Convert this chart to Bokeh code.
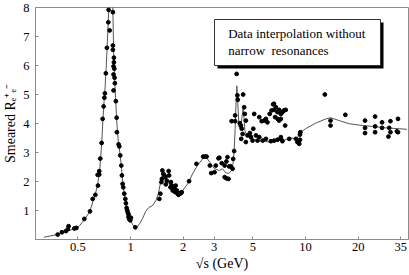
import numpy as np
from bokeh.plotting import figure
from bokeh.models import FixedTicker, Label, BoxAnnotation
from bokeh.embed import file_html
from bokeh.resources import INLINE

# ---- data ----
data_E = [0.383, 0.405, 0.427, 0.438, 0.442, 0.477, 0.490, 0.544, 0.586, 0.607, 0.629, 0.648,
          0.651, 0.662, 0.662, 0.671, 0.683, 0.692, 0.701, 0.708, 0.713, 0.722, 0.732, 0.746,
          0.749, 0.759,
          0.792, 0.792, 0.792, 0.803, 0.803, 0.799, 0.807, 0.799, 0.810, 0.813, 0.799, 0.824,
          0.832, 0.835, 0.854, 0.862, 0.873, 0.885, 0.892, 0.900, 0.908, 0.920, 0.933, 0.940,
          0.949, 0.957, 0.965, 0.974, 0.974, 0.983, 1.004, 0.996, 1.064,
          1.46, 1.48, 1.50, 1.51, 1.52, 1.54, 1.56, 1.58, 1.59, 1.61, 1.65, 1.66, 1.69, 1.70,
          1.72, 1.74, 1.78, 1.80, 1.81, 1.84, 1.86, 1.88, 1.91, 1.94, 1.96, 2.16, 2.38, 2.60,
          2.67, 2.72, 2.84, 2.89, 3.02, 3.07, 3.18, 3.22, 3.32, 3.45, 3.53, 3.58, 3.66, 3.74,
          3.45, 3.53, 3.63, 3.83, 3.86, 3.91,
          3.78, 3.96, 3.96, 4.04, 4.08, 4.10, 4.40, 4.21, 4.27, 4.32, 4.46, 4.50, 4.56, 4.37,
          4.29, 4.56, 4.66, 4.81, 4.88, 4.98, 5.03, 5.21, 5.32, 5.44, 5.69, 5.94, 6.34, 6.62,
          6.92, 7.23,
          5.09, 5.44, 5.62, 5.80, 5.94, 6.06, 6.24, 6.40, 6.53, 6.62, 6.70, 6.92, 7.07, 7.23,
          6.92, 7.23, 6.77, 7.38, 7.54, 7.71, 7.07, 7.65, 6.60,
          7.38, 8.07, 8.81, 8.99, 9.30, 9.30, 9.35, 9.21, 7.23,
          12.9, 13.9, 13.9, 16.9,
          21.9, 21.9, 21.9, 25.0, 25.0, 25.0, 27.4, 27.4, 30.1, 29.8, 30.6, 30.6, 33.3, 33.8, 33.8]
data_R = [0.17, 0.25, 0.29, 0.36, 0.46, 0.38, 0.40, 0.71, 0.97, 1.40, 1.54, 2.23,
          1.86, 2.24, 2.36, 2.79, 3.33, 4.16, 4.59, 4.89, 5.04, 5.73, 6.61, 7.49,
          7.92, 7.21,
          7.84, 6.69, 6.54, 6.27, 6.11, 5.97, 5.89, 5.69, 5.58, 5.39, 5.14, 4.77,
          4.20, 3.70, 3.28, 3.21, 2.90, 2.55, 2.21, 1.92, 1.80, 1.58, 1.40, 1.25,
          1.09, 1.00, 0.92, 0.86, 0.77, 0.70, 0.75, 0.66, 0.42,
          1.40, 1.58, 1.98, 2.09, 2.38, 2.26, 2.21, 2.15, 1.90, 2.03, 2.36, 2.21, 1.80, 1.98,
          1.86, 1.69, 1.75, 1.63, 1.86, 1.69, 1.58, 1.54, 1.58, 1.60, 1.63, 2.01, 2.61, 2.86,
          2.86, 2.86, 2.55, 2.29, 2.32, 2.55, 2.80, 2.82, 2.63, 2.55, 2.69, 2.84, 2.52, 2.52,
          2.15, 2.11, 2.09, 2.44, 2.78, 3.05,
          4.08, 4.28, 4.08, 5.71, 4.97, 4.82, 5.00, 4.01, 3.93, 3.82, 4.56, 4.33, 4.10, 3.64,
          3.47, 3.36, 3.59, 3.67, 3.53, 3.41, 3.82, 3.59, 3.41, 3.53, 3.41, 3.47, 3.39, 3.41,
          3.44, 3.47,
          4.33, 4.22, 4.08, 4.10, 4.16, 4.04, 4.33, 4.45, 4.66, 4.47, 4.22, 4.39, 4.47, 4.33,
          4.16, 4.16, 4.56, 4.39, 4.45, 4.47, 4.10, 3.93, 4.68,
          3.39, 3.47, 3.47, 3.36, 3.44, 3.62, 3.70, 3.30, 3.53,
          5.00, 4.10, 3.93, 4.30,
          4.10, 3.85, 3.67, 4.24, 3.90, 3.70, 4.04, 3.85, 3.85, 3.55, 4.08, 3.70, 3.73, 3.70, 4.16]

curve_E = [0.32, 0.38, 0.41, 0.44, 0.48, 0.51, 0.55, 0.585, 0.61, 0.63, 0.65, 0.665, 0.675,
           0.685, 0.695, 0.705, 0.715, 0.725, 0.735, 0.745, 0.752, 0.765, 0.775, 0.785, 0.792,
           0.80, 0.81, 0.82, 0.835, 0.85, 0.87, 0.885, 0.90, 0.92, 0.94, 0.96, 0.98, 1.00,
           1.03, 1.065, 1.10, 1.13, 1.17, 1.22, 1.27, 1.34, 1.40, 1.44, 1.47, 1.51, 1.54,
           1.56, 1.59, 1.66, 1.74, 1.86, 1.98, 2.12, 2.26, 2.41, 2.58, 2.66, 2.75, 2.84, 3.01,
           3.21, 3.35, 3.50, 3.65, 3.78, 3.85, 3.91, 3.96, 4.00, 4.05, 4.10, 4.17, 4.25, 4.33,
           4.40, 4.45, 4.50, 4.60, 4.76, 5.0, 5.43, 6.2, 6.5, 7.07, 7.4, 8.25, 8.81, 9.21,
           9.4, 10.0, 11.4, 13.1, 13.9, 15.6, 17.8, 21.2, 24.1, 28.7, 34.3, 38.0]
curve_R = [0.08, 0.17, 0.23, 0.30, 0.38, 0.47, 0.72, 0.97, 1.33, 1.58, 1.95, 2.35, 2.85,
           3.40, 4.15, 4.75, 5.25, 5.90, 6.70, 7.50, 8.00, 8.90, 9.20, 8.80, 7.90,
           6.50, 5.60, 4.90, 4.00, 3.40, 2.95, 2.55, 2.00, 1.60, 1.25, 0.98, 0.78, 0.66,
           0.50, 0.43, 0.46, 0.56, 0.72, 0.97, 1.10, 1.18, 1.36, 1.58, 1.85, 2.15, 2.30,
           2.28, 2.10, 1.92, 1.75, 1.60, 1.68, 1.92, 2.26, 2.55, 2.78, 2.83, 2.78, 2.66, 2.45,
           2.38, 2.44, 2.30, 2.28, 2.38, 2.60, 3.07, 3.80, 4.60, 5.30, 4.70, 3.90, 3.80, 4.20,
           4.50, 4.20, 3.76, 3.60, 3.53, 3.45, 3.41, 3.36, 3.42, 3.47, 3.41, 3.50, 3.47, 3.59,
           3.70, 3.82, 4.01, 4.16, 4.20, 4.10, 3.99, 3.93, 3.90, 3.85, 3.82, 3.80]

x_ticks = [0.5, 1, 2, 3, 5, 10, 20, 35]
x_tick_labels = ["0.5", "1", "2", "3", "5", "10", "20", "35"]
y_ticks = [1, 2, 3, 4, 5, 6, 7, 8]
x_title = "\u221As (GeV)"
y_title = "Smeared R\u2091\u207A\u2091\u207B"
legend_lines = ["Data interpolation without", "narrow\u00a0 resonances"]

SERIF = "Liberation Serif"
GREY = "#8c8c8c"

p = figure(x_axis_type="log", x_range=(0.286, 38.8), y_range=(0, 8),
           frame_width=373, frame_height=232,
           min_border_left=33, min_border_right=3, min_border_top=7, min_border_bottom=36,
           output_backend="svg", toolbar_location=None)
p.grid.visible = False
p.outline_line_color = GREY
p.background_fill_color = "white"
p.border_fill_color = "white"

p.line(curve_E, curve_R, line_color="#555555", line_width=1)
p.scatter(data_E, data_R, size=3.8, color="black")

for ax in (p.xaxis[0], p.yaxis[0]):
    ax.axis_line_color = GREY
    ax.major_tick_line_color = GREY
    ax.major_tick_in = 3
    ax.major_tick_out = 0
    ax.minor_tick_line_color = None
    ax.major_label_text_font = SERIF
    ax.major_label_text_font_size = "12.5px"
    ax.major_label_text_color = "black"
    ax.axis_label_text_font = SERIF
    ax.axis_label_text_font_style = "normal"
    ax.axis_label_text_font_size = "14px"
    ax.axis_label_text_color = "black"

p.xaxis.ticker = FixedTicker(ticks=x_ticks)
p.xaxis.major_label_overrides = {t: s for t, s in zip(x_ticks, x_tick_labels)}
p.xaxis.major_label_standoff = 3
p.xaxis.axis_label = x_title
p.xaxis.axis_label_standoff = 2
p.yaxis.ticker = FixedTicker(ticks=y_ticks)
p.yaxis.major_label_standoff = 6
p.yaxis.axis_label = y_title
p.yaxis.axis_label_standoff = 2

# legend box with shadow (screen units relative to the frame)
p.add_layout(BoxAnnotation(left=182, right=348, bottom=171, top=217,
                           left_units="screen", right_units="screen",
                           bottom_units="screen", top_units="screen",
                           fill_color="black", fill_alpha=1, line_alpha=0))
p.add_layout(BoxAnnotation(left=179, right=345, bottom=174, top=220,
                           left_units="screen", right_units="screen",
                           bottom_units="screen", top_units="screen",
                           fill_color="white", fill_alpha=1, line_color="#333333",
                           line_width=1, line_alpha=1))
for txt, yy in zip(legend_lines, [206, 189]):
    p.add_layout(Label(x=192.7, y=yy, x_units="screen", y_units="screen", text=txt,
                       text_align="left", text_baseline="middle",
                       text_font=SERIF, text_font_size="13px", text_color="black"))

open("out.html", "w").write(file_html(p, INLINE))
